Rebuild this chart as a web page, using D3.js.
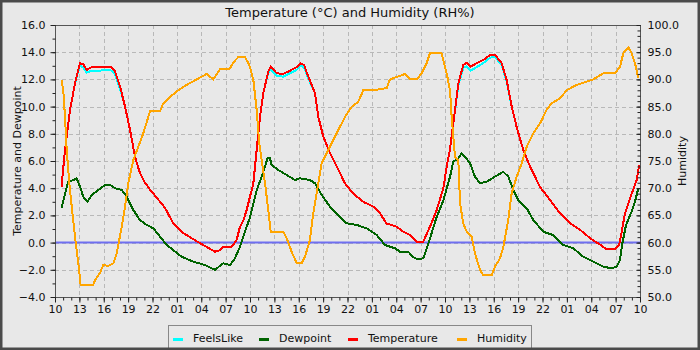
<!DOCTYPE html>
<html>
<head>
<meta charset="utf-8">
<script src="https://cdn.jsdelivr.net/npm/d3@7"></script>
<style>
  html, body { margin: 0; padding: 0; background: #e8e8e8; }
  svg { display: block; font-family: "DejaVu Sans", sans-serif; }
</style>
</head>
<body>
<svg id="chart" width="700" height="350"></svg>
<script>
// Hours elapsed since 10:00 on the first day, 72 hours in total.
const xTickHours = d3.range(0, 73, 3);
const xTickLabels = ["10","13","16","19","22","01","04","07",
                     "10","13","16","19","22","01","04","07",
                     "10","13","16","19","22","01","04","07","10"];

const tempTicks = [-4, -2, 0, 2, 4, 6, 8, 10, 12, 14, 16];
const humTicks = [50, 55, 60, 65, 70, 75, 80, 85, 90, 95, 100];

// Temperature and FeelsLike share the same sample times.
const tempHours = [0.8, 1.23, 1.85, 2.46, 3.08, 3.48, 3.90, 4.52, 5.54, 6.52, 6.98, 7.38, 8.00,
  8.62, 9.23, 9.85, 10.46, 11.08, 11.69, 12.52, 13.54, 14.52, 15.79, 17.44, 18.67, 19.69,
  20.31, 20.71, 21.75, 22.36, 22.77, 23.17, 23.59, 24.41, 24.82, 25.23, 25.64, 26.25, 26.55,
  27.29, 28.10, 28.92, 29.75, 30.24, 30.65, 31.18, 32.00, 32.40, 33.02, 33.85, 34.67, 35.69,
  36.71, 37.94, 39.18, 40.00, 40.82, 42.06, 42.87, 43.69, 44.52, 45.33, 46.15, 46.98, 47.80,
  48.21, 48.60, 49.02, 49.64, 50.25, 50.67, 51.16, 51.90, 52.71, 53.54, 54.15, 54.98, 55.59,
  56.21, 56.82, 57.64, 58.46, 59.69, 60.92, 62.15, 63.38, 64.62, 65.85, 67.08, 67.90, 68.92,
  69.42, 69.78, 70.15, 70.98, 71.59, 71.90];
const tempValues = [4.1, 6.8, 9.75, 11.7, 13.2, 13.1, 12.7, 12.9, 12.9, 12.9, 12.9, 12.6, 11.5,
  10.0, 8.3, 6.3, 5.1, 4.4, 3.9, 3.3, 2.55, 1.45, 0.7, 0.1, -0.32, -0.67,
  -0.55, -0.3, -0.3, 0.2, 1.17, 1.6, 2.4, 4.35, 6.8, 9.26, 11.0, 12.57, 12.93,
  12.45, 12.4, 12.64, 12.9, 13.18, 13.06, 12.2, 11.0, 9.26, 7.8, 6.57, 5.6, 4.36,
  3.6, 3.0, 2.64, 2.15, 1.4, 1.17, 0.8, 0.55, 0.07, 0.07, 1.17, 2.4, 4.0,
  5.6, 6.8, 8.77, 11.7, 13.06, 13.23, 12.93, 13.2, 13.43, 13.8, 13.8, 13.18, 11.96,
  10.0, 8.5, 6.8, 5.6, 4.1, 3.13, 2.15, 1.43, 0.94, 0.33, -0.15, -0.5, -0.5,
  -0.2, 0.9, 2.15, 3.6, 4.6, 5.7];
const feelsValues = [4.1, 6.8, 9.75, 11.7, 13.05, 12.85, 12.5, 12.65, 12.65, 12.7, 12.65, 12.35, 11.3,
  10.0, 8.3, 6.3, 5.1, 4.4, 3.9, 3.3, 2.55, 1.45, 0.7, 0.1, -0.32, -0.67,
  -0.55, -0.3, -0.3, 0.2, 1.17, 1.6, 2.4, 4.35, 6.8, 9.26, 11.0, 12.45, 12.75,
  12.25, 12.2, 12.45, 12.7, 13.0, 12.9, 12.05, 11.0, 9.26, 7.8, 6.57, 5.6, 4.36,
  3.6, 3.0, 2.64, 2.15, 1.4, 1.17, 0.8, 0.55, 0.07, 0.07, 1.17, 2.4, 4.0,
  5.6, 6.8, 8.77, 11.55, 12.85, 12.95, 12.65, 12.9, 13.2, 13.6, 13.65, 13.05, 11.85,
  10.0, 8.5, 6.8, 5.6, 4.1, 3.13, 2.15, 1.43, 0.94, 0.33, -0.15, -0.5, -0.5,
  -0.2, 0.9, 2.15, 3.6, 4.6, 5.7];

const dewHours = [0.8, 1.23, 1.64, 2.25, 2.67, 3.08, 3.48, 3.98, 4.52, 5.33, 6.15, 6.77, 7.38,
  8.21, 8.82, 9.64, 10.46, 11.29, 12.10, 12.92, 13.75, 14.56, 15.59, 17.02, 18.46, 19.69,
  20.71, 21.54, 22.15, 22.77, 23.38, 24.00, 24.82, 25.44, 25.85, 26.14, 26.46, 26.67, 27.48,
  28.52, 29.54, 30.15, 31.38, 32.00, 32.82, 33.85, 34.87, 35.90, 37.13, 38.36, 39.59, 40.62,
  41.85, 42.46, 43.48, 44.10, 44.71, 45.33, 46.15, 46.98, 47.80, 48.62, 49.02, 49.64, 50.05,
  50.46, 51.08, 51.69, 52.31, 53.13, 54.15, 55.18, 55.79, 56.41, 57.03, 58.06, 58.87, 60.10,
  61.33, 62.56, 63.79, 65.02, 66.25, 67.48, 68.52, 69.13, 69.54, 69.78, 70.28, 70.98, 71.38,
  71.79];
const dewValues = [2.52, 3.6, 4.48, 4.6, 4.73, 4.1, 3.38, 3.0, 3.5, 3.87, 4.24, 4.24, 4.0,
  3.87, 3.38, 2.4, 1.66, 1.3, 1.05, 0.44, -0.18, -0.55, -1.04, -1.4, -1.65, -2.0,
  -1.52, -1.65, -1.15, -0.3, 0.8, 1.85, 3.87, 4.85, 5.58, 6.2, 6.2, 5.7, 5.34,
  4.97, 4.6, 4.73, 4.6, 4.36, 3.5, 2.64, 2.03, 1.42, 1.3, 1.05, 0.56, -0.18,
  -0.42, -0.67, -0.67, -1.08, -1.23, -1.15, 0.3, 1.9, 3.1, 4.85, 5.95, 6.2, 6.57,
  6.32, 5.83, 4.85, 4.36, 4.48, 4.85, 5.2, 4.85, 3.87, 3.13, 2.52, 1.66, 0.8,
  0.55, -0.18, -0.42, -1.04, -1.4, -1.77, -1.89, -1.77, -1.3, -0.2, 1.3, 2.3, 3.0,
  4.0];

const humHours = [0.8, 1.02, 1.23, 1.44, 1.76, 2.06, 2.46, 2.87, 3.16, 4.71, 4.92, 5.54, 5.94,
  6.52, 7.18, 7.59, 7.91, 8.21, 8.62, 9.02, 9.64, 10.25, 10.87, 11.69, 12.92, 13.33, 14.15,
  15.18, 16.21, 17.44, 18.67, 19.48, 20.31, 21.54, 21.94, 22.56, 23.38, 23.79, 24.00, 24.41,
  24.82, 25.14, 25.44, 25.85, 26.25, 26.55, 28.10, 28.52, 29.13, 29.75, 30.36, 30.77, 31.38,
  31.79, 32.28, 32.82, 33.44, 34.06, 34.67, 35.69, 36.52, 37.33, 37.94, 39.18, 40.82, 41.23,
  43.08, 43.69, 44.52, 45.13, 45.74, 46.15, 47.59, 48.21, 48.62, 48.82, 49.23, 49.64, 49.85,
  50.25, 50.67, 51.28, 51.69, 52.31, 52.71, 53.74, 54.15, 54.77, 55.18, 55.79, 56.21, 56.82,
  57.44, 58.06, 58.87, 59.69, 60.51, 61.13, 62.15, 62.97, 64.21, 66.25, 67.48, 68.92, 69.54,
  69.94, 70.56, 70.98, 71.38, 71.79];
const humValues = [89.9, 88.0, 83.1, 77.0, 70.9, 66.6, 61.1, 56.2, 52.2, 52.2, 53.1, 54.4, 55.9,
  55.7, 56.2, 58.0, 60.5, 62.9, 66.6, 70.9, 75.2, 77.6, 80.1, 84.1, 84.1, 85.6, 86.8,
  88.0, 89.0, 90.0, 91.0, 90.0, 91.9, 92.0, 93.1, 94.1, 94.1, 93.0, 92.3, 89.9,
  84.4, 78.3, 75.2, 70.9, 66.0, 62.0, 62.0, 60.8, 58.3, 56.2, 56.2, 57.4, 60.5,
  65.4, 69.7, 74.6, 76.4, 78.3, 80.1, 83.1, 85.0, 85.9, 88.0, 88.0, 88.4, 90.0,
  91.0, 90.0, 90.0, 91.1, 93.0, 94.8, 94.8, 91.1, 88.0, 83.1, 75.8, 75.2, 67.2,
  63.5, 62.0, 61.1, 58.0, 55.0, 54.0, 54.0, 55.6, 57.1, 59.2, 64.2, 69.1, 72.1,
  74.6, 77.6, 80.1, 81.9, 84.4, 85.6, 86.5, 88.0, 89.0, 90.0, 91.1, 91.1, 92.3,
  94.8, 95.9, 94.8, 93.0, 90.2];

const W = 700, H = 350;
const plot = { left: 55, right: 640, top: 25, bottom: 297 };

const svg = d3.select("#chart");

const x = d3.scaleLinear().domain([0, 72]).range([plot.left, plot.right]);
const yT = d3.scaleLinear().domain([-4, 16]).range([plot.bottom, plot.top]);
const yH = d3.scaleLinear().domain([50, 100]).range([plot.bottom, plot.top]);

// Background
svg.append("rect").attr("width", W).attr("height", H).attr("fill", "#e8e8e8");

// Grid
const grid = svg.append("g").attr("stroke", "#b8b8b8").attr("stroke-width", 1)
  .attr("stroke-dasharray", "4,3");
grid.selectAll("line.h").data(tempTicks.slice(1, -1)).join("line")
  .attr("x1", plot.left).attr("x2", plot.right)
  .attr("y1", d => Math.round(yT(d)) + 0.5).attr("y2", d => Math.round(yT(d)) + 0.5);
grid.selectAll("line.v").data(xTickHours.slice(1, -1)).join("line")
  .attr("y1", plot.top).attr("y2", plot.bottom)
  .attr("x1", d => Math.round(x(d)) + 0.5).attr("x2", d => Math.round(x(d)) + 0.5);

// Zero line
svg.append("line")
  .attr("x1", plot.left).attr("x2", plot.right)
  .attr("y1", yT(0)).attr("y2", yT(0))
  .attr("stroke", "#6f6ff0").attr("stroke-width", 2);

// Series
const series = [
  { name: "FeelsLike", color: "#00ffff", hours: tempHours, values: feelsValues, y: yT },
  { name: "Dewpoint", color: "#006400", hours: dewHours, values: dewValues, y: yT },
  { name: "Temperature", color: "#ff0000", hours: tempHours, values: tempValues, y: yT },
  { name: "Humidity", color: "#ffa500", hours: humHours, values: humValues, y: yH }
];

series.forEach(s => {
  const pts = s.hours.map((h, i) => [h, s.values[i]]);
  const line = d3.line().x(d => x(d[0])).y(d => s.y(d[1]));
  svg.append("path").datum(pts)
    .attr("fill", "none").attr("stroke", s.color).attr("stroke-width", 2)
    .attr("stroke-linejoin", "miter").attr("shape-rendering", "crispEdges")
    .attr("d", line);
});

// Plot frame
svg.append("rect")
  .attr("x", plot.left + 0.5).attr("y", plot.top + 0.5)
  .attr("width", plot.right - plot.left).attr("height", plot.bottom - plot.top)
  .attr("fill", "none").attr("stroke", "#555");

// Axes
function styleAxis(g) {
  g.select(".domain").remove();
  g.selectAll(".tick line").attr("stroke", "#222");
  g.selectAll(".tick text").attr("fill", "#111").attr("font-size", 11)
    .attr("font-family", "DejaVu Sans, sans-serif");
}

svg.append("g").attr("transform", `translate(${plot.left + 0.5},0)`)
  .call(d3.axisLeft(yT).tickValues(d3.range(-4, 16.01, 1)).tickSize(3).tickFormat(""))
  .call(styleAxis);
svg.append("g").attr("transform", `translate(${plot.left + 0.5},0)`)
  .call(d3.axisLeft(yT).tickValues(tempTicks).tickSize(5).tickPadding(5)
    .tickFormat(d3.format(".1f")))
  .call(styleAxis);

svg.append("g").attr("transform", `translate(${plot.right + 0.5},0)`)
  .call(d3.axisRight(yH).tickValues(d3.range(50, 100.01, 1)).tickSize(-3).tickFormat(""))
  .call(styleAxis);
svg.append("g").attr("transform", `translate(${plot.right + 0.5},0)`)
  .call(d3.axisRight(yH).tickValues(humTicks).tickSize(-4).tickPadding(7)
    .tickFormat(d3.format(".1f")))
  .call(styleAxis);

svg.append("g").attr("transform", `translate(0,${plot.bottom + 0.5})`)
  .call(d3.axisBottom(x).tickValues(d3.range(0, 72.01, 1)).tickSize(3).tickFormat(""))
  .call(styleAxis);
svg.append("g").attr("transform", `translate(0,${plot.bottom + 0.5})`)
  .call(d3.axisBottom(x).tickValues(xTickHours).tickSize(5).tickPadding(3)
    .tickFormat((d, i) => xTickLabels[i]))
  .call(styleAxis);

// Titles
svg.append("text").attr("x", 350).attr("y", 17).attr("text-anchor", "middle")
  .attr("font-size", 13).attr("fill", "#111")
  .text("Temperature (°C) and Humidity (RH%)");
svg.append("text").attr("transform", `translate(21,${(plot.top + plot.bottom) / 2}) rotate(-90)`)
  .attr("text-anchor", "middle").attr("font-size", 11).attr("fill", "#111")
  .text("Temperature and Dewpoint");
svg.append("text").attr("transform", `translate(686,${(plot.top + plot.bottom) / 2}) rotate(-90)`)
  .attr("text-anchor", "middle").attr("font-size", 11).attr("fill", "#111")
  .text("Humidity");

// Legend
const legend = svg.append("g");
legend.append("rect").attr("x", 168.5).attr("y", 325.5).attr("width", 363).attr("height", 26)
  .attr("fill", "#e8e8e8").attr("stroke", "#888");
const legendX = [173, 259, 348, 457];
series.forEach((s, i) => {
  legend.append("line").attr("x1", legendX[i]).attr("x2", legendX[i] + 10)
    .attr("y1", 339.5).attr("y2", 339.5).attr("stroke", s.color).attr("stroke-width", 3);
  legend.append("text").attr("x", legendX[i] + 20).attr("y", 341.5)
    .attr("font-size", 11).attr("fill", "#111").text(s.name);
});

// Window frame
svg.append("rect").attr("x", 1).attr("y", 1).attr("width", W - 2).attr("height", H - 2)
  .attr("fill", "none").attr("stroke", "#4a4a4a").attr("stroke-width", 3);
</script>
</body>
</html>
